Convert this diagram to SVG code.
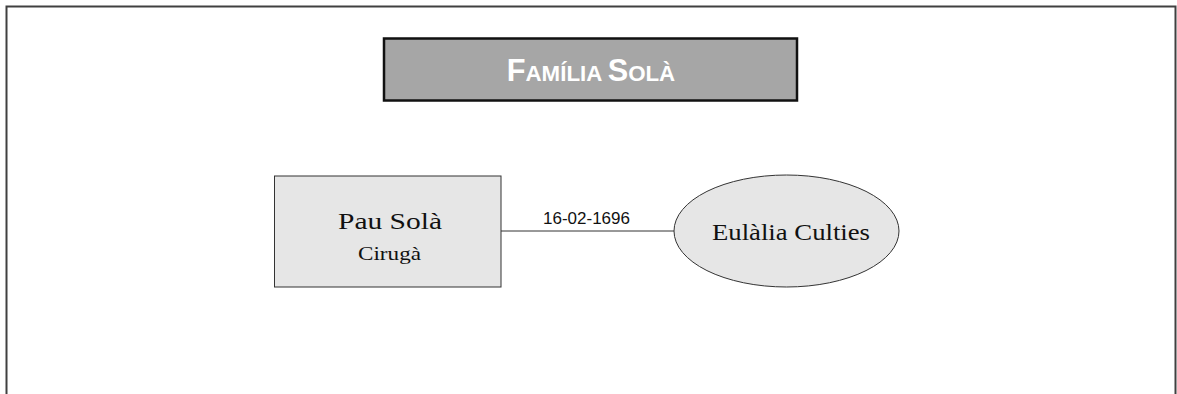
<svg xmlns="http://www.w3.org/2000/svg" width="1177" height="394" viewBox="0 0 1177 394">
<style>
.frame{fill:none;stroke:#404040;stroke-width:2}
.title{fill:#a6a6a6;stroke:#111;stroke-width:2.5}
.node{fill:#e6e6e6;stroke:#333;stroke-width:1}
.conn{stroke:#333;stroke-width:1;fill:none}
.tt{font-family:"Liberation Sans",Arial,sans-serif;font-weight:bold;fill:#fff}
.mono{font-family:"Liberation Serif","Times New Roman",serif;fill:#111}
.lbl{font-family:"Liberation Sans",Arial,sans-serif;font-size:17px;fill:#111}
</style>
<rect width="1177" height="394" fill="#fff"/>
<path class="frame" d="M6.5,394 V6.5 H1175.5 V394"/>
<g id="title">
<rect class="title" x="384" y="38.5" width="413" height="62"/>
<text class="tt" x="591" y="81" text-anchor="middle"><tspan font-size="30.7">F</tspan><tspan font-size="22.3">AMÍLIA </tspan><tspan font-size="30.7">S</tspan><tspan font-size="22.3">OLÀ</tspan></text>
</g>
<g id="connectors">
<line class="conn" x1="501" y1="231" x2="674" y2="231"/>
<text class="lbl" x="586.5" y="224" text-anchor="middle">16-02-1696</text>
</g>
<g id="pau">
<rect class="node" x="274.5" y="176" width="226.5" height="111"/>
<text class="mono" x="338" y="228.5" font-size="24" textLength="104" lengthAdjust="spacingAndGlyphs">Pau Solà</text>
<text class="mono" x="358" y="259.5" font-size="19" textLength="63" lengthAdjust="spacingAndGlyphs">Cirugà</text>
</g>
<g id="eulalia">
<ellipse class="node" cx="786.5" cy="231" rx="112.5" ry="56"/>
<text class="mono" x="712" y="240" font-size="23" textLength="158" lengthAdjust="spacingAndGlyphs">Eulàlia Culties</text>
</g>
</svg>
